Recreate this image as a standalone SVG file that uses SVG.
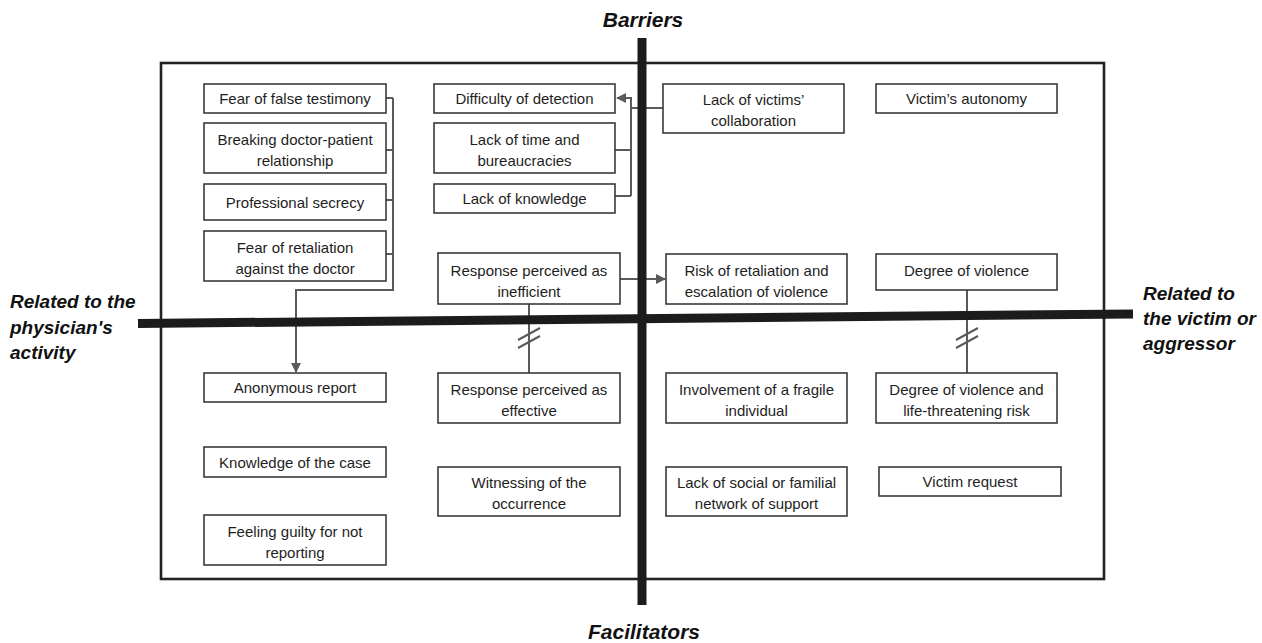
<svg xmlns="http://www.w3.org/2000/svg" width="1262" height="643" viewBox="0 0 1262 643">
<style>
.box{fill:#fff;stroke:#3a3a3a;stroke-width:1.6}
.t{font-family:"Liberation Sans",Arial,sans-serif;font-size:15px;fill:#1e1e1e;text-anchor:middle}
.lbl{font-family:"Liberation Sans",Arial,sans-serif;font-weight:bold;font-style:italic;font-size:19px;fill:#111}
.ax{font-family:"Liberation Sans",Arial,sans-serif;font-weight:bold;font-style:italic;font-size:21px;fill:#111;text-anchor:middle}
.c{fill:none;stroke:#5a5a5a;stroke-width:2}
.bar{stroke:#1c1c1c;stroke-width:9;fill:none}
</style>
<defs>
<marker id="ah" viewBox="0 0 10 10" refX="9" refY="5" markerWidth="5" markerHeight="5" orient="auto" markerUnits="strokeWidth">
<path d="M0,0 L10,5 L0,10 z" fill="#5a5a5a"/>
</marker>
</defs>
<rect x="0" y="0" width="1262" height="643" fill="#fff"/>
<rect x="161" y="63" width="943" height="516" fill="none" stroke="#222" stroke-width="2.6"/>

<g id="connectors">
<path class="c" d="M386,98 H393 M386,150 H393 M386,200 H393 M386,254 H393 M393,98 V290 H296 V372" marker-end="url(#ah)"/>
<path class="c" d="M663,108 H631 M615,196 H631 M615,150 H631 M631,196 V98 H617" marker-end="url(#ah)"/>
<path class="c" d="M620,279 H665" marker-end="url(#ah)"/>
<path class="c" d="M529,304 V373"/>
<path class="c" d="M518,340 L540,328 M518,348 L540,336"/>
<path class="c" d="M967,290 V373"/>
<path class="c" d="M956,340 L978,328 M956,348 L978,336"/>
</g>

<g id="axes">
<line class="bar" x1="642" y1="38" x2="642" y2="605"/>
<line class="bar" x1="138" y1="323.5" x2="1133" y2="314"/>
<text class="ax" x="643" y="27">Barriers</text>
<text class="ax" x="644" y="639">Facilitators</text>
<text class="lbl" x="10" y="308">Related to the</text>
<text class="lbl" x="10" y="334">physician's</text>
<text class="lbl" x="10" y="359">activity</text>
<text class="lbl" x="1143" y="300">Related to</text>
<text class="lbl" x="1143" y="325">the victim or</text>
<text class="lbl" x="1143" y="350">aggressor</text>
</g>

<g id="n1"><rect class="box" x="204" y="84" width="182" height="29"/><text class="t" x="295" y="104">Fear of false testimony</text></g>
<g id="n2"><rect class="box" x="204" y="123" width="182" height="50"/><text class="t" x="295" y="144.5">Breaking doctor-patient</text><text class="t" x="295" y="165.5">relationship</text></g>
<g id="n3"><rect class="box" x="204" y="184" width="182" height="36"/><text class="t" x="295" y="207.5">Professional secrecy</text></g>
<g id="n4"><rect class="box" x="204" y="231" width="182" height="50"/><text class="t" x="295" y="252.5">Fear of retaliation</text><text class="t" x="295" y="273.5">against the doctor</text></g>

<g id="n5"><rect class="box" x="434" y="84" width="181" height="29"/><text class="t" x="524.5" y="104">Difficulty of detection</text></g>
<g id="n6"><rect class="box" x="434" y="123" width="181" height="50"/><text class="t" x="524.5" y="144.5">Lack of time and</text><text class="t" x="524.5" y="165.5">bureaucracies</text></g>
<g id="n7"><rect class="box" x="434" y="184" width="181" height="29"/><text class="t" x="524.5" y="204">Lack of knowledge</text></g>
<g id="n8"><rect class="box" x="438" y="253" width="182" height="51"/><text class="t" x="529" y="275.5">Response perceived as</text><text class="t" x="529" y="296.5">inefficient</text></g>

<g id="n9"><rect class="box" x="663" y="84" width="181" height="49"/><text class="t" x="753.5" y="105">Lack of victims’</text><text class="t" x="753.5" y="126">collaboration</text></g>
<g id="n10"><rect class="box" x="876" y="84" width="181" height="29"/><text class="t" x="966.5" y="104">Victim’s autonomy</text></g>
<g id="n11"><rect class="box" x="666" y="254" width="181" height="50"/><text class="t" x="756.5" y="275.5">Risk of retaliation and</text><text class="t" x="756.5" y="296.5">escalation of violence</text></g>
<g id="n12"><rect class="box" x="876" y="254" width="181" height="36"/><text class="t" x="966.5" y="275.5">Degree of violence</text></g>

<g id="n13"><rect class="box" x="204" y="373" width="182" height="29"/><text class="t" x="295" y="393">Anonymous report</text></g>
<g id="n14"><rect class="box" x="204" y="447" width="182" height="30"/><text class="t" x="295" y="467.5">Knowledge of the case</text></g>
<g id="n15"><rect class="box" x="204" y="515" width="182" height="50"/><text class="t" x="295" y="536.5">Feeling guilty for not</text><text class="t" x="295" y="557.5">reporting</text></g>
<g id="n16"><rect class="box" x="438" y="373" width="182" height="50"/><text class="t" x="529" y="394.5">Response perceived as</text><text class="t" x="529" y="415.5">effective</text></g>
<g id="n17"><rect class="box" x="438" y="467" width="182" height="49"/><text class="t" x="529" y="488">Witnessing of the</text><text class="t" x="529" y="509">occurrence</text></g>

<g id="n18"><rect class="box" x="666" y="373" width="181" height="50"/><text class="t" x="756.5" y="394.5">Involvement of a fragile</text><text class="t" x="756.5" y="415.5">individual</text></g>
<g id="n19"><rect class="box" x="876" y="373" width="181" height="50"/><text class="t" x="966.5" y="394.5">Degree of violence and</text><text class="t" x="966.5" y="415.5">life-threatening risk</text></g>
<g id="n20"><rect class="box" x="666" y="467" width="181" height="49"/><text class="t" x="756.5" y="488">Lack of social or familial</text><text class="t" x="756.5" y="509">network of support</text></g>
<g id="n21"><rect class="box" x="879" y="467" width="182" height="29"/><text class="t" x="970" y="487">Victim request</text></g>
</svg>
